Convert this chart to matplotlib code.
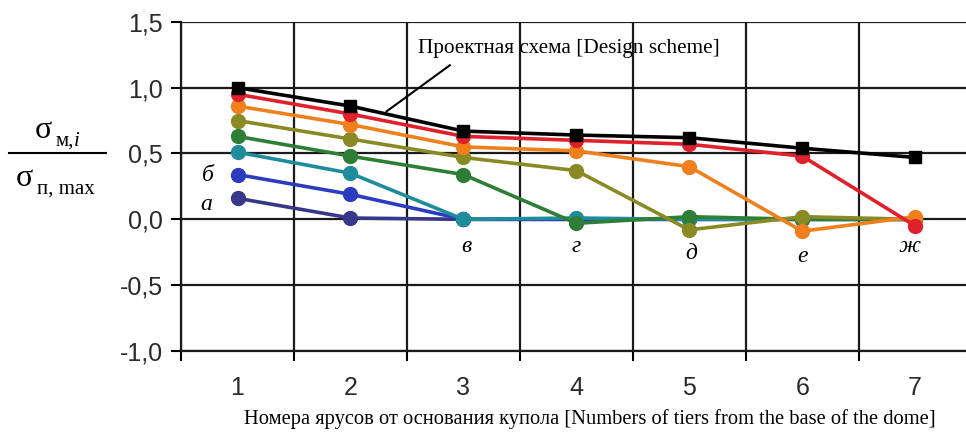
import matplotlib
matplotlib.use("Agg")
import matplotlib.pyplot as plt
from matplotlib.lines import Line2D

# tiers from the base of the dome
tiers = [1, 2, 3, 4, 5, 6, 7]

# stress ratio per loading case (а ... ж) and the design scheme
s_a = [0.16, 0.01, 0.0, 0.0, 0.0, 0.0, 0.0]
s_b = [0.34, 0.19, 0.0, 0.0, 0.0, 0.0, 0.0]
s_v = [0.51, 0.35, 0.0, 0.01, 0.0, 0.0, 0.0]
s_g = [0.63, 0.48, 0.34, -0.03, 0.02, 0.0, 0.0]
s_d = [0.75, 0.61, 0.47, 0.37, -0.08, 0.02, 0.0]
s_e = [0.86, 0.72, 0.55, 0.52, 0.40, -0.09, 0.02]
s_zh = [0.95, 0.80, 0.63, 0.60, 0.57, 0.48, -0.05]
design = [1.0, 0.86, 0.67, 0.64, 0.62, 0.54, 0.47]

series = [s_a, s_b, s_v, s_g, s_d, s_e, s_zh]
colors = ["#38388a", "#2c3cc0", "#1f8c9c", "#2e7e35", "#8a8a25", "#f0801e", "#e0202a"]

case_labels = ["а", "б", "в", "г", "д", "е", "ж"]
label_pos = [(0.72, 0.11), (0.74, 0.33), (3.03, -0.21), (4.0, -0.21),
             (5.02, -0.26), (6.0, -0.28), (6.95, -0.21)]

yticks = [-1.0, -0.5, 0.0, 0.5, 1.0, 1.5]
ytick_labels = ["-1,0", "-0,5", "0,0", "0,5", "1,0", "1,5"]

fig = plt.figure(figsize=(9.66, 4.32), dpi=100)
ax = fig.add_axes([0.1874, 0.1875, 0.8126, 0.762])

for vals, c in zip(series, colors):
    ax.plot(tiers, vals, color=c, lw=2.6, marker="o", ms=10, mec=c, zorder=3)
ax.plot(tiers, design, color="black", lw=2.6, marker="s", ms=9, zorder=4)

ax.set_xlim(0.5, 7.45)
ax.set_ylim(-1.0, 1.5)

ax.set_yticks(yticks)
ax.set_yticklabels(ytick_labels, fontsize=18, family="Liberation Sans", color="#2a2a2a")
ax.set_xticks(tiers)
ax.set_xticklabels([str(t) for t in tiers], fontsize=18, family="Liberation Sans",
                   color="#2a2a2a")
ax.set_xticks([0.5, 1.5, 2.5, 3.5, 4.5, 5.5, 6.5], minor=True)

ax.tick_params(axis="y", direction="out", length=7, width=1.5, pad=6)
ax.tick_params(axis="x", which="major", length=0, pad=18)
ax.tick_params(axis="x", which="minor", direction="out", length=7, width=1.5)

ax.grid(True, axis="y", which="major", color="#1a1a1a", lw=1.6)
ax.grid(True, axis="x", which="minor", color="#1a1a1a", lw=1.6)
for side in ["top", "right"]:
    ax.spines[side].set_visible(False)
for side in ["left", "bottom"]:
    ax.spines[side].set_linewidth(1.6)
    ax.spines[side].set_color("#1a1a1a")

for lab, (x, y) in zip(case_labels, label_pos):
    ax.text(x, y, lab, fontsize=17, style="italic", family="Liberation Serif",
            ha="center", va="center")

# design scheme callout
ax.text(2.6, 1.30, "Проектная схема [Design scheme]", fontsize=15.3,
        family="Liberation Serif", ha="left", va="center", zorder=5)
ax.plot([2.88, 2.32], [1.17, 0.82], color="black", lw=1.5, zorder=5)

ax.set_xlabel("Номера ярусов от основания купола [Numbers of tiers from the base of the dome]",
              fontsize=14.8, family="Liberation Serif")
ax.xaxis.set_label_coords(0.521, -0.175)

# y-axis label as a fraction
H = 432.0
W = 966.0
fig.text(35 / W, 1 - 138 / H, "σ", fontsize=23, family="Liberation Serif",
         ha="left", va="baseline")
fig.text(56 / W, 1 - 146 / H, "м,", fontsize=15, family="Liberation Serif",
         ha="left", va="baseline")
fig.text(74 / W, 1 - 146 / H, "i", fontsize=15, family="Liberation Serif", style="italic",
         ha="left", va="baseline")
fig.add_artist(Line2D([9 / W, 106 / W], [1 - 153 / H, 1 - 153 / H], color="black", lw=1.5))
fig.text(16 / W, 1 - 186 / H, "σ", fontsize=23, family="Liberation Serif",
         ha="left", va="baseline")
fig.text(37 / W, 1 - 194 / H, "п, max", fontsize=15, family="Liberation Serif",
         ha="left", va="baseline")

fig.savefig("out.png", dpi=100)
